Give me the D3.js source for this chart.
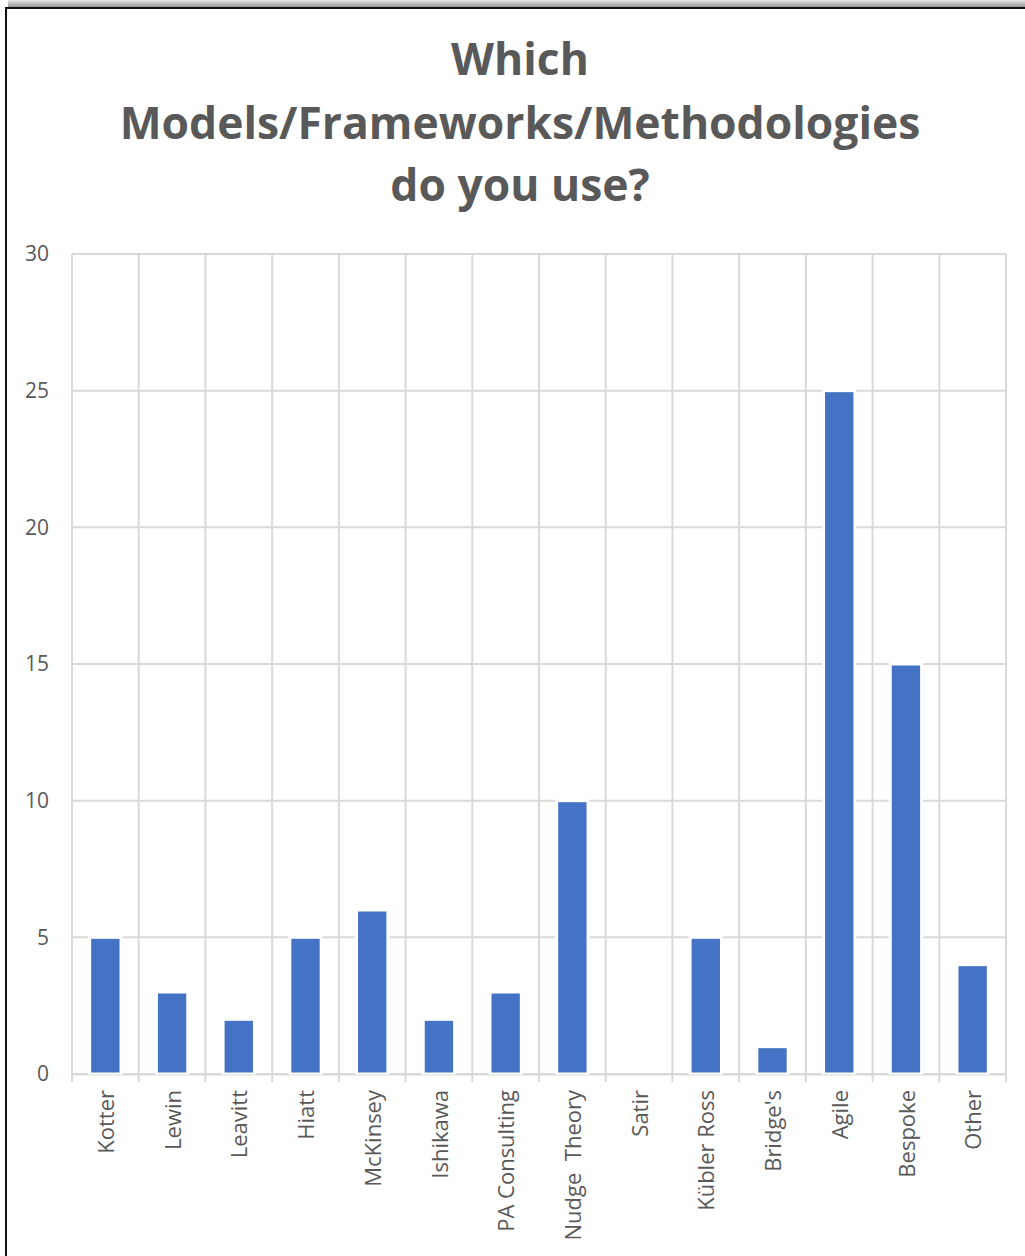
<!DOCTYPE html>
<html>
<head>
<meta charset="utf-8">
<script src="https://cdn.jsdelivr.net/npm/d3@7/dist/d3.min.js"></script>
<style>
  html, body { margin: 0; padding: 0; background: #ffffff; }
  svg { display: block; }
  text { font-family: "Open Sans", "Noto Sans", sans-serif; white-space: pre; }
</style>
</head>
<body>
<script>
// Survey answers: which change models / frameworks / methodologies are used
const categories = ["Kotter", "Lewin", "Leavitt", "Hiatt", "McKinsey", "Ishikawa",
  "PA Consulting", "Nudge  Theory", "Satir", "Kübler Ross", "Bridge's", "Agile",
  "Bespoke", "Other"];
const counts = [5, 3, 2, 5, 6, 2, 3, 10, 0, 5, 1, 25, 15, 4];
const yTicks = [0, 5, 10, 15, 20, 25, 30];
const titleLines = ["Which", "Models/Frameworks/Methodologies", "do you use?"];

const W = 1025, H = 1256;
const plot = { left: 72, right: 1006, top: 254, bottom: 1074 };
const gridColor = "#d9d9d9";
const textColor = "#595959";
const barColor = "#4472c4";

const svg = d3.select("body").append("svg")
  .attr("width", W).attr("height", H);

// top drop shadow of the chart frame
const defs = svg.append("defs");
const grad = defs.append("linearGradient")
  .attr("id", "topShade").attr("x1", 0).attr("y1", 0).attr("x2", 0).attr("y2", 1);
grad.append("stop").attr("offset", "0%").attr("stop-color", "#e6e6e6");
grad.append("stop").attr("offset", "100%").attr("stop-color", "#8a8a8a");
svg.append("rect").attr("x", 8).attr("y", 0).attr("width", W - 8).attr("height", 8)
  .attr("fill", "url(#topShade)");

// chart frame (continues past the right and bottom edges)
svg.append("rect")
  .attr("x", 6).attr("y", 8).attr("width", W + 20).attr("height", H + 20)
  .attr("fill", "#ffffff").attr("stroke", "#111111").attr("stroke-width", 2);

// title
const title = svg.append("g");
const baselines = [75, 139, 201];
title.selectAll("text").data(titleLines).join("text")
  .attr("x", 520).attr("y", (d, i) => baselines[i])
  .attr("text-anchor", "middle")
  .attr("font-weight", 700)
  .attr("font-size", 40)
  .attr("fill", textColor)
  .text(d => d);
// size the title so the long middle line spans its intended width
const midNode = title.selectAll("text").nodes()[1];
const measured = midNode.getComputedTextLength();
const fs = 40 * 801 / measured;
title.selectAll("text").attr("font-size", fs);

// scales
const x = d3.scaleBand().domain(categories).range([plot.left, plot.right])
  .paddingInner(0).paddingOuter(0);
const y = d3.scaleLinear().domain([0, 30]).range([plot.bottom, plot.top]);

// horizontal gridlines
svg.append("g").selectAll("line").data(yTicks.filter(v => v > 0)).join("line")
  .attr("x1", plot.left).attr("x2", plot.right)
  .attr("y1", d => y(d)).attr("y2", d => y(d))
  .attr("stroke", gridColor).attr("stroke-width", 2);

// vertical category separators, extending below the axis as tick marks
const edges = categories.map(c => x(c)).concat([x.range()[1]]);
svg.append("g").selectAll("line").data(edges).join("line")
  .attr("x1", d => d).attr("x2", d => d)
  .attr("y1", plot.top).attr("y2", plot.bottom + 8)
  .attr("stroke", gridColor).attr("stroke-width", 2);

// category axis line
svg.append("line")
  .attr("x1", plot.left).attr("x2", plot.right)
  .attr("y1", y(0)).attr("y2", y(0))
  .attr("stroke", gridColor).attr("stroke-width", 2);

// y-axis labels
const yAxis = d3.axisLeft(y).tickValues(yTicks).tickSize(0).tickPadding(0);
const yg = svg.append("g").attr("transform", `translate(${plot.left - 23},0)`).call(yAxis);
yg.select(".domain").remove();
yg.selectAll("text")
  .attr("font-size", 21).attr("fill", textColor)
  .style("font-family", '"Open Sans", "Noto Sans", sans-serif');

// bars
const barW = x.bandwidth() * 0.47;
svg.append("g").selectAll("rect").data(categories).join("rect")
  .attr("x", d => x(d) + (x.bandwidth() - barW) / 2)
  .attr("width", barW)
  .attr("y", (d, i) => y(counts[i]))
  .attr("height", (d, i) => y(0) - y(counts[i]))
  .attr("fill", barColor)
  .attr("stroke", (d, i) => counts[i] > 0 ? "#ffffff" : "none")
  .attr("stroke-width", 3);

// redraw baseline over bar outlines
svg.append("line")
  .attr("x1", plot.left).attr("x2", plot.right)
  .attr("y1", y(0) + 1).attr("y2", y(0) + 1)
  .attr("stroke", gridColor).attr("stroke-width", 1);

// rotated category labels
const xAxis = d3.axisBottom(x).tickSize(0).tickPadding(0);
const xg = svg.append("g").attr("transform", `translate(0,${plot.bottom})`).call(xAxis);
xg.select(".domain").remove();
xg.selectAll("text")
  .attr("font-size", 22).attr("fill", textColor)
  .style("font-family", '"Open Sans", "Noto Sans", sans-serif')
  .attr("text-anchor", "end")
  .attr("dy", "0.35em")
  .attr("transform", "translate(1,16) rotate(-90)")
  .attr("x", 0).attr("y", 0);
</script>
</body>
</html>
